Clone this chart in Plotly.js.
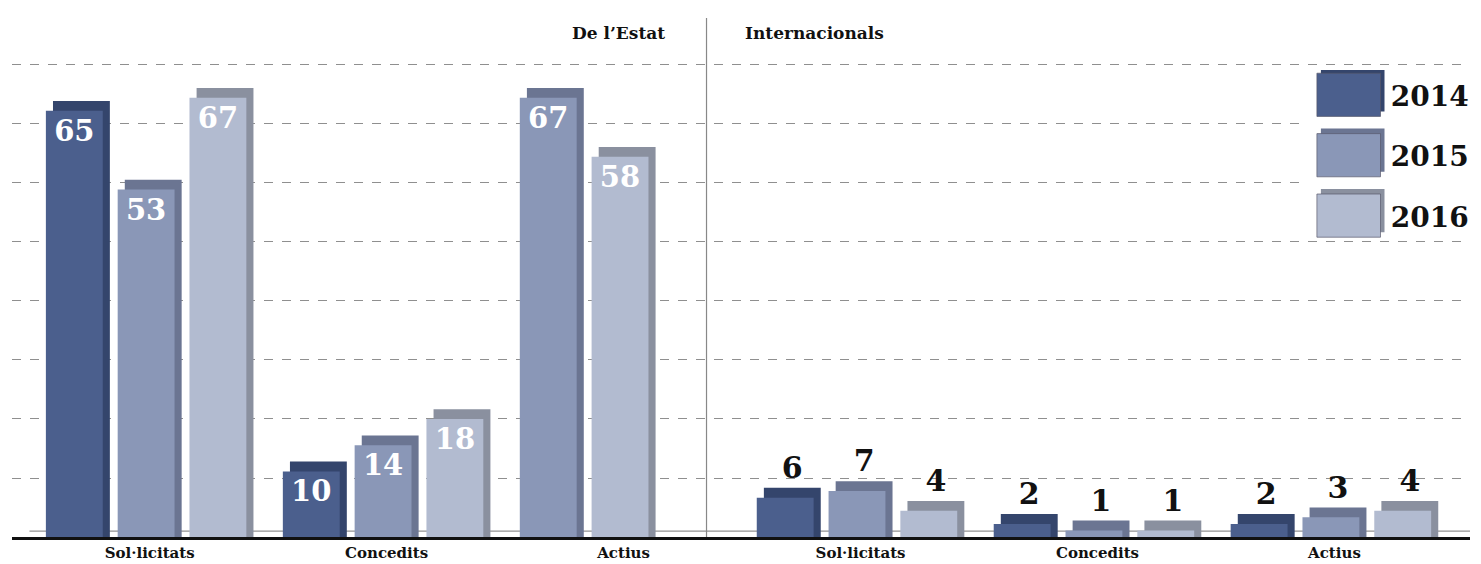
<!DOCTYPE html>
<html>
<head>
<meta charset="utf-8">
<script src="https://cdn.plot.ly/plotly-3.0.1.min.js"></script>
<style>html,body{margin:0;padding:0;background:#fff;}#chart{width:1481px;height:564px;}</style>
</head>
<body>
<div id="chart"></div>
<script>
// ---- data ----
const scopes = ["De l'Estat", "De l'Estat", "De l'Estat", "Internacionals", "Internacionals", "Internacionals"];
const categories = ["Sol·licitats", "Concedits", "Actius", "Sol·licitats", "Concedits", "Actius"];
const years = ["2014", "2015", "2016"];
const v2014 = [65, 10, null, 6, 2, 2];
const v2015 = [53, 14, 67, 7, 1, 3];
const v2016 = [67, 18, 58, 4, 1, 4];
const series = [v2014, v2015, v2016];

// ---- styles ----
const frontColors = ["#4b5f8d", "#8a97b7", "#b2bbd0"];
const backColors = ["#34456c", "#6b7592", "#8a909f"];
const serif = "DejaVu Serif, Liberation Serif, serif";
const barW = 0.24, step = 0.303, dX = 0.03, dY = 1.5;

const catIds = categories.map((c, i) => scopes[i] + "|" + c);

// present bars of each category are packed from the first slot
function offsets(si) {
  return catIds.map((_, ci) => {
    let idx = 0;
    for (let k = 0; k < si; k++) if (series[k][ci] != null) idx++;
    return (idx - 1) * step - (barW + dX) / 2;
  });
}

const traces = [];
// back (depth) traces, carry the outside labels
series.forEach((s, si) => {
  const off = offsets(si);
  traces.push({
    type: "bar", x: catIds, y: s.map(v => v == null ? null : v + dY),
    width: barW, offset: off.map(o => o + dX),
    marker: {color: backColors[si], line: {width: 0}},
    text: s.map((v, i) => (v != null && scopes[i] !== "De l'Estat") ? String(v) : ""),
    textposition: "outside", cliponaxis: false,
    outsidetextfont: {family: serif, size: 30, color: "#111", weight: "bold"},
    showlegend: false, hoverinfo: "skip"
  });
});
// front traces, carry the inside labels
series.forEach((s, si) => {
  traces.push({
    type: "bar", name: years[si], x: catIds, y: s,
    width: barW, offset: offsets(si),
    marker: {color: frontColors[si], line: {width: 0}},
    text: s.map((v, i) => (v != null && scopes[i] === "De l'Estat") ? String(v) : ""),
    textposition: "inside", insidetextanchor: "end", constraintext: "none",
    insidetextfont: {family: serif, size: 29, color: "#ffffff", weight: "bold"},
    legendgroup: years[si], hoverinfo: "skip"
  });
});

const layout = {
  width: 1481, height: 564,
  margin: {l: 12, r: 7, t: 63, b: 27},
  paper_bgcolor: "#ffffff", plot_bgcolor: "#ffffff",
  barmode: "overlay",
  showlegend: true,
  legend: {
    x: 0.888, y: 0.985, xanchor: "left", yanchor: "top",
    bgcolor: "#ffffff", borderwidth: 0,
    font: {family: serif, size: 28, color: "#111", weight: "bold"},
    tracegroupgap: 21, itemwidth: 74, traceorder: "grouped"
  },
  xaxis: {
    type: "category", range: [-0.581, 5.572],
    tickvals: catIds, ticktext: categories,
    tickfont: {family: serif, size: 15, color: "#111", weight: "bold"},
    showgrid: false, zeroline: false, ticks: "", ticklen: 0,
    showline: true, linecolor: "#111", linewidth: 3, fixedrange: true
  },
  yaxis: {
    range: [0, 72.3], dtick: 9, tick0: 0,
    showticklabels: false, ticks: "",
    showgrid: true, gridcolor: "#8f8f8f", gridwidth: 1, griddash: "dash",
    zeroline: false, showline: false, fixedrange: true
  },
  shapes: [
    {type: "line", xref: "x", yref: "paper", x0: 2.35, x1: 2.35, y0: 0, y1: 1.095,
     line: {color: "#888", width: 1.2}},
    {type: "line", xref: "paper", yref: "y", x0: 0.012, x1: 1, y0: 0.9, y1: 0.9,
     layer: "below", line: {color: "#777", width: 1}}
  ],
  annotations: [
    {xref: "x", yref: "paper", x: 2.35, y: 1.063, xanchor: "right", yanchor: "middle",
     xshift: -40, text: "De l’Estat", showarrow: false,
     font: {family: serif, size: 17, color: "#111", weight: "bold"}},
    {xref: "x", yref: "paper", x: 2.35, y: 1.063, xanchor: "left", yanchor: "middle",
     xshift: 36, text: "Internacionals", showarrow: false,
     font: {family: serif, size: 17, color: "#111", weight: "bold"}}
  ]
};

Plotly.newPlot("chart", traces, layout, {staticPlot: true, displayModeBar: false}).then(() => {
  // enlarge legend swatches into block-like keys
  document.querySelectorAll(".legend .legendpoints").forEach((g, i) => {
    const p = g.querySelector("path");
    if (!p) return;
    const base = p.getAttribute("transform") || "";
    const back = p.cloneNode(true);
    back.setAttribute("transform", base + " translate(4,-5) scale(5.3,3.6)");
    back.style.fill = backColors[i];
    back.style.stroke = "none";
    g.insertBefore(back, p);
    p.setAttribute("transform", base + " scale(5.3,3.6)");
    p.style.stroke = "#556";
    p.style.strokeWidth = "0.15px";
  });
});
</script>
</body>
</html>
